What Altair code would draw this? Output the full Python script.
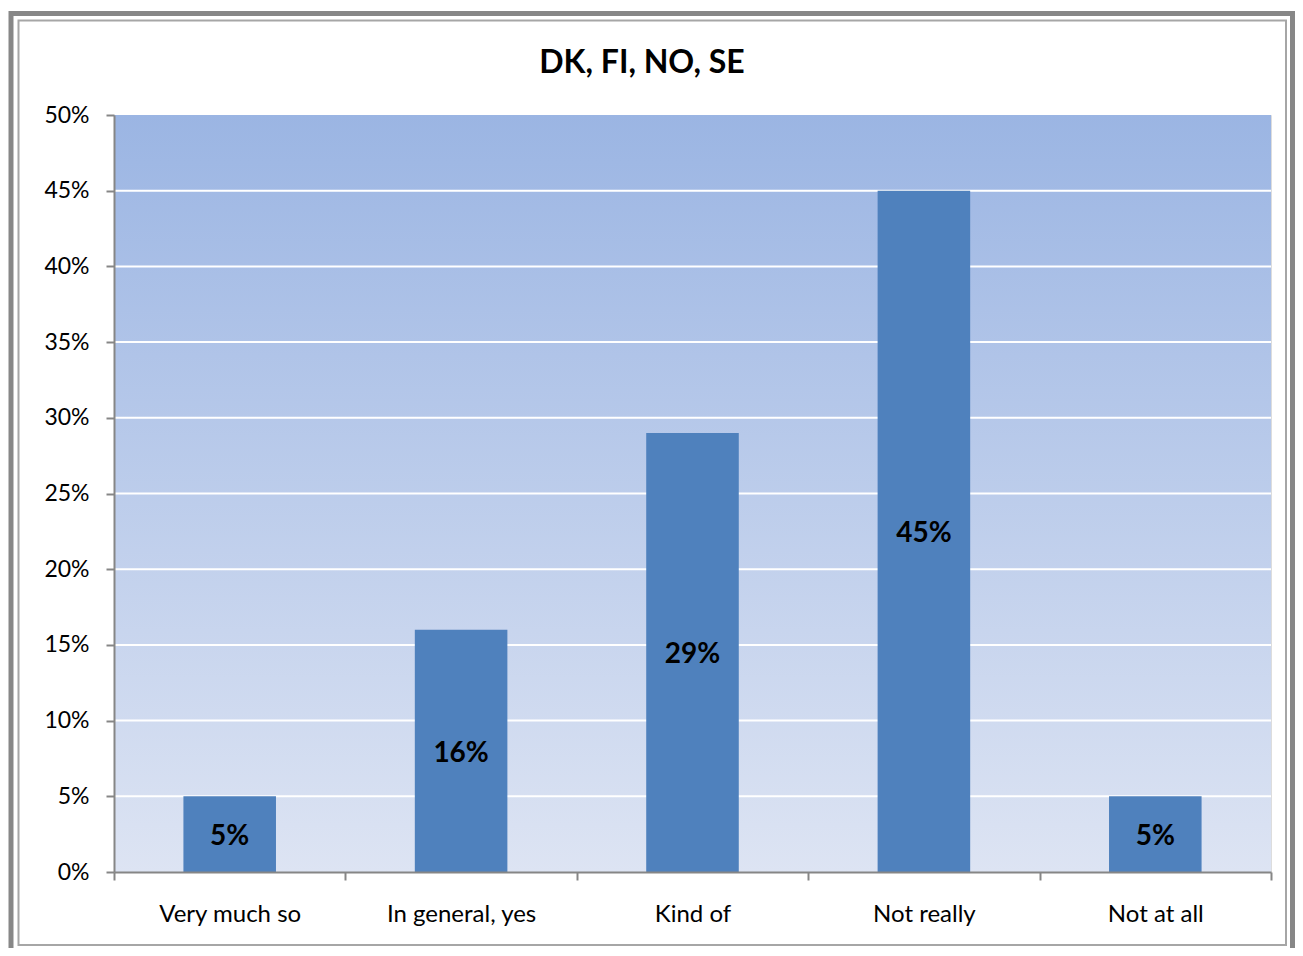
import altair as alt
import pandas as pd

categories = ["Very much so", "In general, yes", "Kind of", "Not really", "Not at all"]
values = [5, 16, 29, 45, 5]
y_ticks = [0, 5, 10, 15, 20, 25, 30, 35, 40, 45, 50]
title_text = ["DK, FI, NO, SE"]

df = pd.DataFrame({"category": categories, "value": values})
grid_df = pd.DataFrame({"tick": y_ticks[1:-1]})
title_df = pd.DataFrame({"title": title_text})

W, H = 1157, 757
FONT = "Lato"

y_scale = alt.Scale(domain=[0, 50], nice=False)
y_axis = alt.Axis(
    title=None, values=y_ticks, labelExpr="datum.value + '%'",
    labelFontSize=23, labelFont=FONT, labelColor="black", labelPadding=17,
    tickSize=8, domainColor="#868686", tickColor="#868686",
    domainWidth=2, tickWidth=2, grid=False, zindex=1,
)

x_enc = alt.X(
    "category:N",
    sort=categories,
    scale=alt.Scale(paddingInner=0, paddingOuter=0),
    axis=alt.Axis(
        title=None, labelAngle=0, tickBand="extent", labelFontSize=24,
        labelFont=FONT, labelColor="black", labelPadding=22, tickSize=8,
        domainColor="#868686", tickColor="#868686", domainWidth=2, tickWidth=2,
        grid=False, zindex=1,
    ),
)

one = alt.Data(values=[{"k": 1}])

background = alt.Chart(one).mark_rect(
    color=alt.LinearGradient(
        gradient="linear", x1=0, y1=0, x2=0, y2=1,
        stops=[alt.GradientStop(color="#9BB5E3", offset=0),
               alt.GradientStop(color="#DDE4F3", offset=1)],
    )
).encode(x=alt.value(0), x2=alt.value(W), y=alt.value(0), y2=alt.value(H))

gridlines = alt.Chart(grid_df).mark_rule(color="white", strokeWidth=2).encode(
    y=alt.Y("tick:Q", scale=y_scale, axis=y_axis),
    x=alt.value(0), x2=alt.value(W),
)

bars = alt.Chart(df).mark_bar(
    color="#4F81BD", width=alt.RelativeBandSize(0.4)
).encode(x=x_enc, y=alt.Y("value:Q", scale=y_scale, axis=y_axis))

labels = alt.Chart(df).transform_calculate(
    label="datum.value + '%'", mid="datum.value / 2"
).mark_text(
    font=FONT, fontSize=28, fontWeight="bold", color="black", baseline="middle", dy=3
).encode(
    x=alt.X("category:N", sort=categories),
    y=alt.Y("mid:Q", scale=y_scale, axis=y_axis),
    text="label:N",
)

title = alt.Chart(title_df).mark_text(
    font=FONT, fontSize=32, fontWeight="bold", color="black",
    baseline="middle", align="center",
).encode(x=alt.value(528), y=alt.value(-52), text="title:N")

frame_outer = alt.Chart(one).mark_rect(
    filled=False, stroke="#878787", strokeWidth=5, clip=False
).encode(x=alt.value(-103), x2=alt.value(1178.5), y=alt.value(-101.5), y2=alt.value(845))
frame_inner = alt.Chart(one).mark_rect(
    filled=False, stroke="#A6A6A6", strokeWidth=2, clip=False
).encode(x=alt.value(-95.5), x2=alt.value(1172), y=alt.value(-94.5), y2=alt.value(830))

chart = alt.layer(
    frame_outer, frame_inner, background, gridlines, bars, labels, title
).properties(
    width=W,
    height=H,
    autosize=alt.AutoSizeParams(type="none"),
    padding={"left": 106, "top": 107, "right": 24, "bottom": 76},
).configure_view(stroke=None).configure(background="white")

chart.save("out.html", embed_options={"renderer": "svg", "actions": False})
